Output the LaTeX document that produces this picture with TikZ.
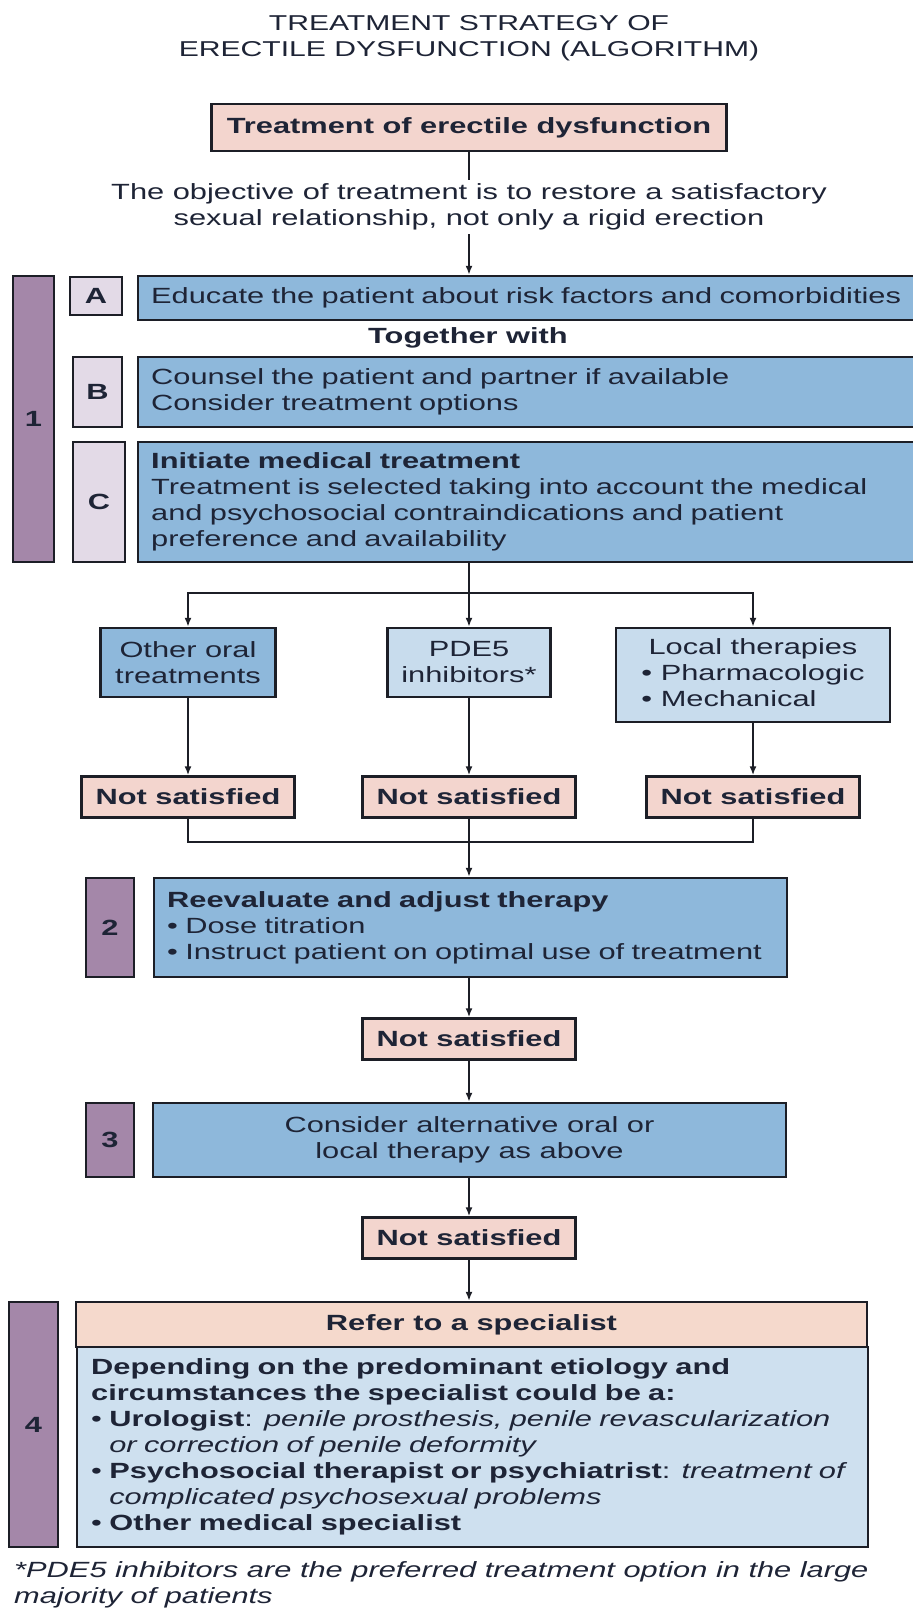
\documentclass[tikz,border=0pt]{standalone}
\usepackage{fontspec}
\setmainfont[FakeStretch=1.4]{Liberation Sans}
\usetikzlibrary{arrows.meta}
\definecolor{pinkc}{HTML}{F3D5CE}
\definecolor{peachc}{HTML}{F5D9CC}
\definecolor{midblue}{HTML}{8EB8DB}
\definecolor{lightblue}{HTML}{C8DCED}
\definecolor{specblue}{HTML}{CEE0EF}
\definecolor{purplec}{HTML}{A487A9}
\definecolor{lavc}{HTML}{E3DAE7}
\definecolor{bordc}{HTML}{1C1E26}
\definecolor{txtc}{HTML}{1E2436}
\newcommand{\bodyfnt}{\fontsize{22}{26}\selectfont}
\newcommand{\hang}{\hphantom{•\ }}
\tikzset{
  box/.style={draw=bordc, line width=2.4pt, text=txtc, font=\bodyfnt, inner xsep=0pt, inner ysep=0pt, align=center},
  lbox/.style={box, align=left, inner xsep=13pt, anchor=west},
  numbox/.style={box, fill=purplec, font=\bodyfnt\bfseries},
  letbox/.style={box, fill=lavc, font=\bodyfnt\bfseries},
  nsbox/.style={box, fill=pinkc, font=\bodyfnt\bfseries, minimum width=213pt, minimum height=41pt},
  plain/.style={text=txtc, font=\bodyfnt, inner sep=4pt, align=center},
  ln/.style={draw=bordc, line width=2pt},
  arr/.style={draw=bordc, line width=2pt, -{Latex[length=9pt,width=7pt]}}
}
\begin{document}
\begin{tikzpicture}[x=1pt,y=-1pt]
\fill[white] (0,0) rectangle (913,1618);
\useasboundingbox (0,0) rectangle (913,1618);

\node[plain, font=\fontsize{21.5}{26.5}\selectfont] (title) at (469,38) {TREATMENT STRATEGY OF\\ERECTILE DYSFUNCTION (ALGORITHM)};

\node[box, fill=pinkc, font=\bodyfnt\bfseries, minimum width=515pt, minimum height=47pt] (t0) at (469,127.5) {Treatment of erectile dysfunction};
\node[plain] (obj) at (469,207) {The objective of treatment is to restore a satisfactory\\sexual relationship, not only a rigid erection};

% step 1
\node[numbox, minimum width=41pt, minimum height=286pt] (p1) at (33.5,419) {1};
\node[letbox, minimum width=52pt, minimum height=38pt] (aL) at (96,296) {A};
\node[lbox, fill=midblue, text width=774pt, minimum height=44pt] (aC) at (137,298) {Educate the patient about risk factors and comorbidities};
\node[plain, font=\bodyfnt\bfseries] (tog) at (468,338) {Together with};
\node[letbox, minimum width=49pt, minimum height=70pt] (bL) at (97.5,392) {B};
\node[lbox, fill=midblue, text width=774pt, minimum height=70pt] (bC) at (137,392) {Counsel the patient and partner if available\\Consider treatment options};
\node[letbox, minimum width=52pt, minimum height=120pt] (cL) at (99,502) {C};
\node[lbox, fill=midblue, text width=774pt, minimum height=120pt] (cC) at (137,502) {\textbf{Initiate medical treatment}\\Treatment is selected taking into account the medical\\and psychosocial contraindications and patient\\preference and availability};

% options
\node[box, fill=midblue, minimum width=175pt, minimum height=69pt] (other) at (188,662.5) {Other oral\\treatments};
\node[box, fill=lightblue, minimum width=163pt, minimum height=69pt] (pde) at (469,662.5) {PDE5\\inhibitors*};
\node[box, fill=lightblue, minimum width=274pt, minimum height=94pt] (local) at (753,675) {\begin{tabular}{@{}l@{}}\multicolumn{1}{@{}c@{}}{Local therapies}\\• Pharmacologic\\• Mechanical\end{tabular}};

\node[nsbox] (ns1) at (188,797) {Not satisfied};
\node[nsbox] (ns2) at (469,797) {Not satisfied};
\node[nsbox] (ns3) at (753,797) {Not satisfied};

\coordinate (j1) at (469,593);
\coordinate (j2) at (469,842);

% step 2
\node[numbox, minimum width=48pt, minimum height=99pt] (p2) at (110,927.5) {2};
\node[lbox, fill=midblue, text width=607pt, minimum height=99pt] (r2) at (153,927.5) {\textbf{Reevaluate and adjust therapy}\\• Dose titration\\\mbox{• Instruct patient on optimal use of treatment}};
\node[nsbox] (ns4) at (469,1039) {Not satisfied};

% step 3
\node[numbox, minimum width=48pt, minimum height=74pt] (p3) at (110,1140) {3};
\node[box, fill=midblue, minimum width=633pt, minimum height=74pt] (r3) at (469.5,1140) {Consider alternative oral or\\local therapy as above};
\node[nsbox] (ns5) at (469,1238) {Not satisfied};

% step 4
\node[numbox, minimum width=49pt, minimum height=245pt] (p4) at (33.5,1424.5) {4};
\node[box, fill=peachc, font=\bodyfnt\bfseries, minimum width=791pt, minimum height=45pt] (refer) at (471.5,1324.5) {Refer to a specialist};
\node[lbox, fill=specblue, inner xsep=14pt, text width=763pt, minimum height=200pt] (spec) at (76,1447) {\textbf{Depending on the predominant etiology and}\\\textbf{circumstances the specialist could be a:}\\\mbox{• \textbf{Urologist}: \textit{penile prosthesis, penile revascularization}}\\\hang\textit{or correction of penile deformity}\\\mbox{• \textbf{Psychosocial therapist or psychiatrist}: \textit{treatment of}}\\\hang\textit{complicated psychosexual problems}\\• \textbf{Other medical specialist}};

\node[plain, anchor=west, align=left, font=\bodyfnt\itshape, inner sep=0pt] (foot) at (14,1585) {*PDE5 inhibitors are the preferred treatment option in the large\\majority of patients};

% connectors
\draw[ln] (t0.south) -- (t0.south |- obj.north);
\draw[arr] (obj.south) -- (obj.south |- aC.north);
\draw[ln] (cC.south -| j1) -- (j1);
\draw[arr] (j1) -| (other.north);
\draw[arr] (j1) -- (pde.north);
\draw[arr] (j1) -| (local.north);
\draw[arr] (other.south) -- (ns1.north);
\draw[arr] (pde.south) -- (ns2.north);
\draw[arr] (local.south) -- (ns3.north);
\draw[ln] (ns1.south) |- (j2);
\draw[ln] (ns3.south) |- (j2);
\draw[ln] (ns2.south) -- (j2);
\draw[arr] (j2) -- (j2 |- r2.north);
\draw[arr] (r2.south -| ns4) -- (ns4.north);
\draw[arr] (ns4.south) -- (ns4.south |- r3.north);
\draw[arr] (r3.south -| ns5) -- (ns5.north);
\draw[arr] (ns5.south) -- (ns5.south |- refer.north);
\end{tikzpicture}
\end{document}
